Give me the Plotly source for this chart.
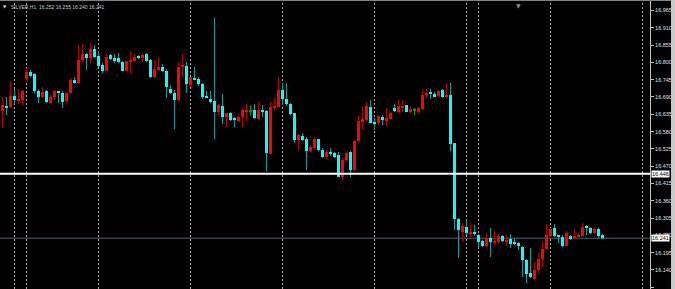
import plotly.graph_objects as go

symbol = "SILVER"
timeframe = "H1"

opens = [16.645, 16.661, 16.659, 16.694, 16.678, 16.680, 16.746, 16.771, 16.762, 16.710,
         16.691, 16.709, 16.672, 16.691, 16.709, 16.704, 16.677, 16.704, 16.744, 16.733,
         16.808, 16.826, 16.815, 16.842, 16.820, 16.792, 16.774, 16.824, 16.813, 16.813,
         16.802, 16.774, 16.802, 16.804, 16.820, 16.816, 16.826, 16.808, 16.752, 16.778,
         16.786, 16.774, 16.717, 16.702, 16.680, 16.784, 16.789, 16.728, 16.751, 16.746,
         16.731, 16.691, 16.683, 16.677, 16.643, 16.661, 16.627, 16.640, 16.622, 16.615,
         16.625, 16.645, 16.647, 16.649, 16.619, 16.649, 16.645, 16.509, 16.657, 16.659,
         16.712, 16.684, 16.668, 16.638, 16.553, 16.567, 16.558, 16.519, 16.527, 16.555,
         16.521, 16.500, 16.516, 16.513, 16.505, 16.437, 16.490, 16.516, 16.458, 16.550,
         16.612, 16.617, 16.659, 16.612, 16.606, 16.627, 16.615, 16.619, 16.654, 16.643,
         16.657, 16.665, 16.645, 16.649, 16.643, 16.651, 16.696, 16.705, 16.698, 16.694,
         16.712, 16.691, 16.696, 16.543, 16.302, 16.262, 16.278, 16.254, 16.261, 16.251,
         16.232, 16.216, 16.241, 16.225, 16.229, 16.248, 16.230, 16.237, 16.230, 16.225,
         16.214, 16.172, 16.131, 16.110, 16.140, 16.174, 16.207, 16.249, 16.272, 16.249,
         16.244, 16.217, 16.249, 16.241, 16.246, 16.249, 16.278, 16.275, 16.256, 16.269,
         16.252]

highs = [16.691, 16.691, 16.739, 16.714, 16.714, 16.712, 16.781, 16.776, 16.765, 16.714,
         16.723, 16.712, 16.696, 16.712, 16.710, 16.709, 16.707, 16.749, 16.755, 16.855,
         16.858, 16.829, 16.861, 16.855, 16.836, 16.797, 16.827, 16.827, 16.827, 16.829,
         16.804, 16.805, 16.837, 16.827, 16.822, 16.829, 16.831, 16.810, 16.808, 16.816,
         16.794, 16.778, 16.728, 16.712, 16.800, 16.827, 16.802, 16.755, 16.784, 16.755,
         16.733, 16.709, 16.709, 16.941, 16.668, 16.699, 16.640, 16.643, 16.625, 16.633,
         16.654, 16.668, 16.665, 16.668, 16.675, 16.665, 16.649, 16.675, 16.691, 16.755,
         16.733, 16.736, 16.672, 16.640, 16.572, 16.577, 16.562, 16.537, 16.564, 16.558,
         16.527, 16.521, 16.527, 16.516, 16.516, 16.495, 16.516, 16.519, 16.553, 16.633,
         16.659, 16.675, 16.680, 16.622, 16.633, 16.633, 16.654, 16.643, 16.668, 16.683,
         16.680, 16.665, 16.657, 16.654, 16.659, 16.714, 16.714, 16.717, 16.707, 16.712,
         16.717, 16.733, 16.736, 16.543, 16.304, 16.288, 16.301, 16.288, 16.283, 16.253,
         16.235, 16.256, 16.272, 16.265, 16.254, 16.251, 16.251, 16.253, 16.241, 16.230,
         16.216, 16.174, 16.209, 16.166, 16.195, 16.230, 16.285, 16.272, 16.285, 16.251,
         16.251, 16.264, 16.251, 16.269, 16.259, 16.288, 16.283, 16.278, 16.278, 16.272,
         16.255]

lows = [16.590, 16.633, 16.657, 16.668, 16.668, 16.665, 16.739, 16.752, 16.702, 16.672,
        16.688, 16.672, 16.670, 16.680, 16.670, 16.656, 16.672, 16.702, 16.730, 16.731,
        16.797, 16.776, 16.799, 16.815, 16.786, 16.765, 16.771, 16.808, 16.799, 16.797,
        16.772, 16.772, 16.767, 16.800, 16.812, 16.802, 16.802, 16.749, 16.749, 16.774,
        16.769, 16.688, 16.699, 16.588, 16.678, 16.755, 16.702, 16.723, 16.744, 16.726,
        16.685, 16.687, 16.672, 16.558, 16.633, 16.603, 16.596, 16.615, 16.596, 16.612,
        16.596, 16.615, 16.633, 16.619, 16.617, 16.625, 16.456, 16.508, 16.649, 16.657,
        16.665, 16.661, 16.633, 16.545, 16.521, 16.551, 16.458, 16.516, 16.524, 16.519,
        16.495, 16.492, 16.502, 16.495, 16.435, 16.426, 16.484, 16.437, 16.456, 16.548,
        16.585, 16.615, 16.606, 16.585, 16.601, 16.601, 16.598, 16.617, 16.643, 16.640,
        16.643, 16.643, 16.638, 16.633, 16.640, 16.649, 16.691, 16.683, 16.689, 16.691,
        16.688, 16.686, 16.519, 16.267, 16.179, 16.233, 16.251, 16.246, 16.248, 16.214,
        16.212, 16.214, 16.182, 16.221, 16.227, 16.230, 16.219, 16.209, 16.219, 16.203,
        16.119, 16.100, 16.113, 16.108, 16.129, 16.150, 16.206, 16.246, 16.246, 16.227,
        16.214, 16.216, 16.235, 16.238, 16.244, 16.248, 16.251, 16.254, 16.254, 16.241,
        16.240]

closes = [16.665, 16.658, 16.693, 16.680, 16.684, 16.709, 16.771, 16.757, 16.709, 16.691,
          16.706, 16.674, 16.691, 16.709, 16.704, 16.675, 16.704, 16.744, 16.733, 16.808,
          16.827, 16.813, 16.842, 16.818, 16.789, 16.774, 16.818, 16.811, 16.805, 16.800,
          16.774, 16.804, 16.808, 16.818, 16.813, 16.822, 16.804, 16.755, 16.778, 16.784,
          16.773, 16.721, 16.702, 16.680, 16.784, 16.792, 16.730, 16.755, 16.746, 16.730,
          16.689, 16.688, 16.675, 16.643, 16.665, 16.627, 16.638, 16.617, 16.617, 16.625,
          16.649, 16.649, 16.647, 16.622, 16.649, 16.643, 16.513, 16.657, 16.659, 16.712,
          16.684, 16.668, 16.636, 16.553, 16.569, 16.553, 16.519, 16.532, 16.558, 16.521,
          16.498, 16.516, 16.509, 16.498, 16.437, 16.490, 16.511, 16.458, 16.550, 16.615,
          16.619, 16.661, 16.608, 16.606, 16.630, 16.617, 16.622, 16.640, 16.645, 16.661,
          16.659, 16.643, 16.651, 16.649, 16.656, 16.696, 16.704, 16.698, 16.691, 16.710,
          16.691, 16.696, 16.540, 16.302, 16.267, 16.280, 16.256, 16.262, 16.256, 16.228,
          16.216, 16.241, 16.228, 16.233, 16.248, 16.233, 16.235, 16.223, 16.225, 16.217,
          16.172, 16.127, 16.119, 16.140, 16.174, 16.207, 16.251, 16.269, 16.249, 16.246,
          16.216, 16.256, 16.237, 16.249, 16.249, 16.278, 16.275, 16.256, 16.269, 16.248,
          16.241]

price_ticks = [16.965, 16.910, 16.855, 16.800, 16.745, 16.690, 16.635, 16.580, 16.525,
               16.470, 16.415, 16.360, 16.305, 16.250, 16.195, 16.140, 16.085]
level_price = 16.446
bid_price = 16.241
separator_bars = [3, 6, 24, 47, 70, 93, 116, 119, 137, 160]

UP_BODY, DOWN_BODY, DOJI = "#ff0000", "#00ffff", "#00a000"
UP_WICK, DOWN_WICK = "#b00000", "#109c9c"
MIN_H = 0.0032

x = list(range(len(opens)))
body_base, body_h, body_c, wick_c = [], [], [], []
for o, c in zip(opens, closes):
    lo, h = min(o, c), abs(c - o)
    if h < MIN_H:
        lo, h = (o + c) / 2 - MIN_H / 2, MIN_H
    body_base.append(lo)
    body_h.append(h)
    if c > o:
        body_c.append(UP_BODY); wick_c.append(UP_WICK)
    elif c < o:
        body_c.append(DOWN_BODY); wick_c.append(DOWN_WICK)
    else:
        body_c.append(DOJI); wick_c.append(DOJI)

fig = go.Figure()
fig.add_trace(go.Bar(x=x, y=[h - l for h, l in zip(highs, lows)], base=lows, width=0.25,
                     marker=dict(color=wick_c, line=dict(width=0)), hoverinfo="skip"))
fig.add_trace(go.Bar(x=x, y=body_h, base=body_base, width=0.75,
                     marker=dict(color=body_c, line=dict(width=0)), hoverinfo="skip"))

shapes = []
for b in separator_bars:
    shapes.append(dict(type="line", xref="x", yref="paper", x0=b, x1=b, y0=0, y1=1,
                       line=dict(color="#a8a8a8", width=1, dash="2px,2px"), layer="below"))
shapes.append(dict(type="line", xref="paper", yref="y", x0=0, x1=1, y0=bid_price, y1=bid_price,
                   line=dict(color="#56646f", width=1), layer="below"))
shapes.append(dict(type="line", xref="paper", yref="y", x0=0, x1=1, y0=level_price, y1=level_price,
                   line=dict(color="#ffffff", width=2), layer="above"))
shapes.append(dict(type="line", xref="paper", yref="paper", x0=0, x1=1.04, y0=1, y1=1,
                   line=dict(color="#808080", width=2), layer="above"))
shapes.append(dict(type="rect", xref="paper", yref="paper", x0=671 / 650, x1=1.05, y0=0, y1=1,
                   fillcolor="#c8c8c8", line=dict(width=0), layer="above"))

annotations = [
    dict(xref="paper", yref="y", x=1, y=level_price, xanchor="left", xshift=1,
         text=f"{level_price:.3f}", showarrow=False, bgcolor="#ffffff", borderpad=0,
         font=dict(family="Liberation Sans", size=5.5, color="#000000")),
    dict(xref="paper", yref="y", x=1, y=bid_price, xanchor="left", xshift=1,
         text=f"{bid_price:.3f}", showarrow=False, bgcolor="#ffffff", borderpad=0,
         font=dict(family="Liberation Sans", size=5.5, color="#000000")),
    dict(xref="paper", yref="paper", x=0, y=1, xanchor="left", yanchor="top", xshift=1, yshift=-2,
         text="▼", showarrow=False, font=dict(family="DejaVu Sans", size=4, color="#e0e0e0")),
    dict(xref="paper", yref="paper", x=0, y=1, xanchor="left", yanchor="top", xshift=9, yshift=-2,
         text=f"{symbol},{timeframe}  {opens[-1]:.3f} {highs[-1]:.3f} {lows[-1]:.3f} {closes[-1]:.3f}",
         showarrow=False, font=dict(family="Liberation Sans", size=5, color="#c8c8c8")),
    dict(xref="paper", yref="paper", x=518 / 650, y=1, xanchor="center", yanchor="top", yshift=0,
         text="▼", showarrow=False, font=dict(family="DejaVu Sans", size=6, color="#8a8a8a")),
]

fig.update_layout(
    width=675, height=289, margin=dict(l=0, r=25, t=0, b=0),
    paper_bgcolor="#000000", plot_bgcolor="#000000",
    barmode="overlay", bargap=0, showlegend=False,
    shapes=shapes, annotations=annotations,
    xaxis=dict(range=[-0.625, 161.875], visible=False, fixedrange=True),
    yaxis=dict(range=[16.0795, 16.9984], side="right", tickvals=price_ticks,
               ticktext=[f"{v:.3f}" for v in price_ticks], ticks="outside", ticklen=3,
               tickcolor="#c0c0c0", tickfont=dict(family="Liberation Sans", size=5.5, color="#e0e0e0"),
               showgrid=False, zeroline=False, showline=True, linecolor="#c0c0c0", linewidth=1,
               fixedrange=True),
)

fig.write_html("out.html")
